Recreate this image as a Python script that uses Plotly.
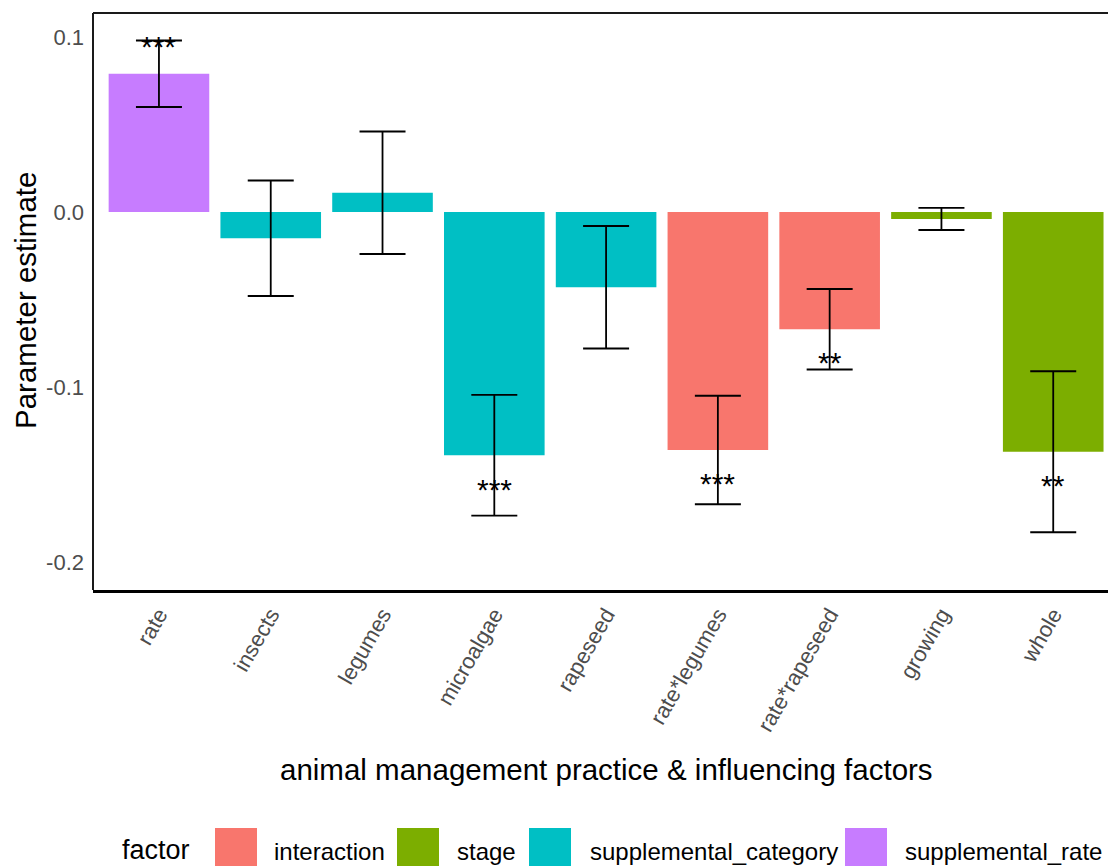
import plotly.graph_objects as go

# Model terms, their factor group, estimates and standard errors
terms = ["rate", "insects", "legumes", "microalgae", "rapeseed",
         "rate*legumes", "rate*rapeseed", "growing", "whole"]
factor = ["supplemental_rate", "supplemental_category", "supplemental_category",
          "supplemental_category", "supplemental_category", "interaction",
          "interaction", "stage", "stage"]
estimate = [0.079, -0.015, 0.011, -0.139, -0.043, -0.136, -0.067, -0.004, -0.137]
std_error = [0.019, 0.033, 0.035, 0.0345, 0.035, 0.031, 0.023, 0.0063, 0.046]
signif = ["***", "", "", "***", "", "***", "**", "", "**"]

factor_levels = ["interaction", "stage", "supplemental_category", "supplemental_rate"]
factor_colors = ["#F8766D", "#7CAE00", "#00BFC4", "#C77CFF"]

FONT = "Liberation Sans, Arial, sans-serif"
W, H = 1108, 866
ML, MR, MT, MB = 93, 0, 13, 276
PW, PH = W - ML - MR, H - MT - MB


def px_x(p):
    return (p - ML) / PW


def px_y(p):
    return (H - MB - p) / PH


fig = go.Figure()
for lev, col in zip(factor_levels, factor_colors):
    idx = [i for i, f in enumerate(factor) if f == lev]
    fig.add_trace(go.Bar(
        x=[terms[i] for i in idx],
        y=[estimate[i] for i in idx],
        name=lev,
        width=0.9,
        marker=dict(color=col, line=dict(width=0)),
        error_y=dict(type="data", array=[std_error[i] for i in idx],
                     color="black", thickness=1.8, width=23),
        showlegend=False,
    ))

# significance stars next to the error bars
annotations = []
for t, e, s in zip(terms, estimate, signif):
    if s:
        off = 0.018 if e > 0 else -0.017
        annotations.append(dict(
            x=t, y=e + off, xref="x", yref="y", text=s, showarrow=False,
            font=dict(family=FONT, size=30, color="black"),
            yanchor="middle", xanchor="center", yshift=-4,
        ))

# axis titles
annotations.append(dict(
    x=px_x(606), y=px_y(769), xref="paper", yref="paper",
    text="animal management practice & influencing factors", showarrow=False,
    font=dict(family=FONT, size=29.5, color="black"), xanchor="center", yanchor="middle"))
annotations.append(dict(
    x=px_x(25), y=px_y(301), xref="paper", yref="paper",
    text="Parameter estimate", showarrow=False, textangle=-90,
    font=dict(family=FONT, size=29.5, color="black"), xanchor="center", yanchor="middle"))

# legend drawn at the bottom
legend_swatch_x = [215, 397, 529, 845]
legend_text_x = [272, 455, 588, 903]
annotations.append(dict(
    x=px_x(120), y=px_y(850), xref="paper", yref="paper", text="factor",
    showarrow=False, font=dict(family=FONT, size=27, color="black"),
    xanchor="left", yanchor="middle"))
shapes = []
for lev, col, sx, tx in zip(factor_levels, factor_colors, legend_swatch_x, legend_text_x):
    shapes.append(dict(type="rect", xref="paper", yref="paper",
                       x0=px_x(sx), x1=px_x(sx + 42), y0=px_y(828), y1=px_y(870),
                       fillcolor=col, line=dict(width=0)))
    annotations.append(dict(
        x=px_x(tx), y=px_y(851), xref="paper", yref="paper", text=lev,
        showarrow=False, font=dict(family=FONT, size=24, color="black"),
        xanchor="left", yanchor="middle"))

# panel top and left borders
shapes.append(dict(type="line", xref="paper", yref="paper", x0=0, x1=1.01, y0=1, y1=1,
                   line=dict(color="#1a1a1a", width=2)))
shapes.append(dict(type="line", xref="paper", yref="paper", x0=0, x1=0, y0=0, y1=1,
                   line=dict(color="#1a1a1a", width=2)))

yticks = [0.1, 0.0, -0.1, -0.2]
fig.update_layout(
    width=W, height=H,
    margin=dict(l=ML, r=MR, t=MT, b=MB),
    paper_bgcolor="white", plot_bgcolor="white",
    barmode="overlay",
    xaxis=dict(
        categoryorder="array", categoryarray=terms,
        range=[-0.59, 8.49], showgrid=False, zeroline=False,
        showline=True, linecolor="black", linewidth=3,
        ticks="", tickangle=-60,
        tickfont=dict(family=FONT, size=22, color="#4D4D4D"),
    ),
    yaxis=dict(
        range=[-0.216, 0.1137], showgrid=False, zeroline=False,
        showline=False, ticks="", ticklabelstandoff=8,
        tickvals=yticks, ticktext=["%.1f" % v for v in yticks],
        tickfont=dict(family=FONT, size=22, color="#4D4D4D"),
    ),
    annotations=annotations,
    shapes=shapes,
    showlegend=False,
)

fig.write_html("out.html")
